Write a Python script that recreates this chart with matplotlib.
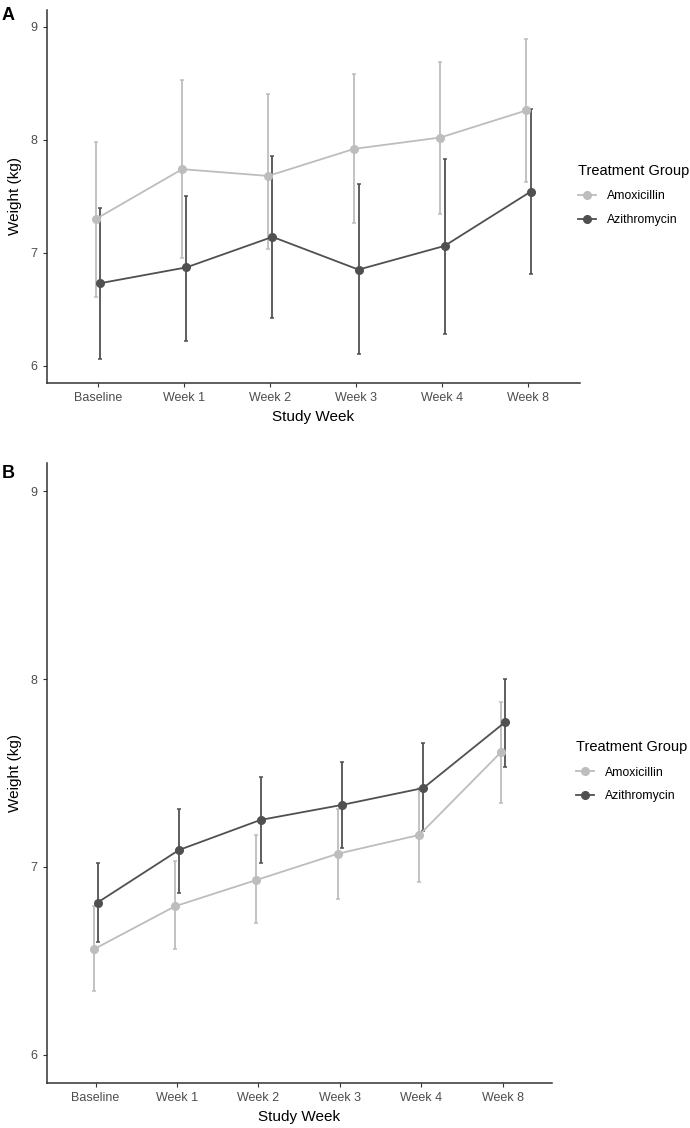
import matplotlib
matplotlib.use('Agg')
import matplotlib.pyplot as plt
import numpy as np

plt.rcParams['font.family'] = ['Liberation Sans', 'DejaVu Sans']

weeks = ['Baseline', 'Week 1', 'Week 2', 'Week 3', 'Week 4', 'Week 8']
groups = ['Amoxicillin', 'Azithromycin']
colors = {'Amoxicillin': '#BDBDBD', 'Azithromycin': '#505050'}

# Panel A: mean weight with upper / lower error bar limits
a_amox_mean = [7.30, 7.74, 7.68, 7.92, 8.02, 8.26]
a_amox_hi = [7.98, 8.53, 8.41, 8.58, 8.69, 8.89]
a_amox_lo = [6.61, 6.95, 7.03, 7.26, 7.34, 7.63]
a_azi_mean = [6.73, 6.87, 7.14, 6.85, 7.06, 7.54]
a_azi_hi = [7.40, 7.50, 7.86, 7.61, 7.83, 8.27]
a_azi_lo = [6.06, 6.22, 6.42, 6.10, 6.28, 6.81]

# Panel B
b_amox_mean = [6.56, 6.79, 6.93, 7.07, 7.17, 7.61]
b_amox_hi = [6.79, 7.03, 7.17, 7.31, 7.42, 7.88]
b_amox_lo = [6.34, 6.56, 6.70, 6.83, 6.92, 7.34]
b_azi_mean = [6.81, 7.09, 7.25, 7.33, 7.42, 7.77]
b_azi_hi = [7.02, 7.31, 7.48, 7.56, 7.66, 8.00]
b_azi_lo = [6.60, 6.86, 7.02, 7.10, 7.19, 7.53]

panels = {
    'A': {'Amoxicillin': (a_amox_mean, a_amox_lo, a_amox_hi),
          'Azithromycin': (a_azi_mean, a_azi_lo, a_azi_hi)},
    'B': {'Amoxicillin': (b_amox_mean, b_amox_lo, b_amox_hi),
          'Azithromycin': (b_azi_mean, b_azi_lo, b_azi_hi)},
}

W, H = 690, 1128
fig = plt.figure(figsize=(W / 100, H / 100), dpi=100)

# axes boxes in pixels: left, right, top, bottom
boxes = {'A': (46.7, 580, 10, 382.5), 'B': (46.7, 551.7, 463.3, 1082.7)}
legend_pos = {'A': (578, 164), 'B': (576, 740)}
label_pos = {'A': (2, 16), 'B': (2, 474)}

x = np.arange(len(weeks))
offsets = {'Amoxicillin': -0.025, 'Azithromycin': 0.025}

for key, data in panels.items():
    l, r, t, b = boxes[key]
    ax = fig.add_axes([l / W, (H - b) / H, (r - l) / W, (b - t) / H])
    handles = []
    for g in groups:
        mean, lo, hi = [np.array(v) for v in data[g]]
        xs = x + offsets[g]
        ax.errorbar(xs, mean, yerr=[mean - lo, hi - mean], fmt='none',
                    ecolor=colors[g], elinewidth=1.3, capsize=1.6,
                    capthick=1.1, zorder=2)
        h, = ax.plot(xs, mean, color=colors[g], linewidth=1.3,
                     marker='o', markersize=5.5, zorder=3, label=g)
        handles.append(h)

    ax.set_xlim(-0.6, 5.6)
    ax.set_ylim(5.85, 9.15)
    ax.set_xticks(x)
    ax.set_xticklabels(weeks)
    ax.set_yticks([6, 7, 8, 9])
    for s in ['top', 'right']:
        ax.spines[s].set_visible(False)
    for s in ['left', 'bottom']:
        ax.spines[s].set_linewidth(1.1)
        ax.spines[s].set_color('#333333')
    ax.tick_params(axis='both', length=3, width=0.8, color='#333333',
                   labelsize=9, labelcolor='#4D4D4D', pad=4)
    ax.set_xlabel('Study Week', fontsize=11, labelpad=4)
    ax.set_ylabel('Weight (kg)', fontsize=11, labelpad=6)

    lx, ly = legend_pos[key]
    leg = fig.legend(handles=handles, loc='upper left',
                     bbox_to_anchor=(lx / W, 1 - ly / H),
                     title='Treatment Group', title_fontsize=10.5,
                     fontsize=8.8, frameon=False, handlelength=1.5,
                     handletextpad=0.9, labelspacing=0.95,
                     borderpad=0, borderaxespad=0)
    leg._legend_box.align = 'left'
    leg._legend_box.sep = 9

    px, py = label_pos[key]
    fig.text(px / W, 1 - py / H, key, fontsize=13, fontweight='bold',
             va='center', ha='left')

fig.savefig('out.png', dpi=100)
